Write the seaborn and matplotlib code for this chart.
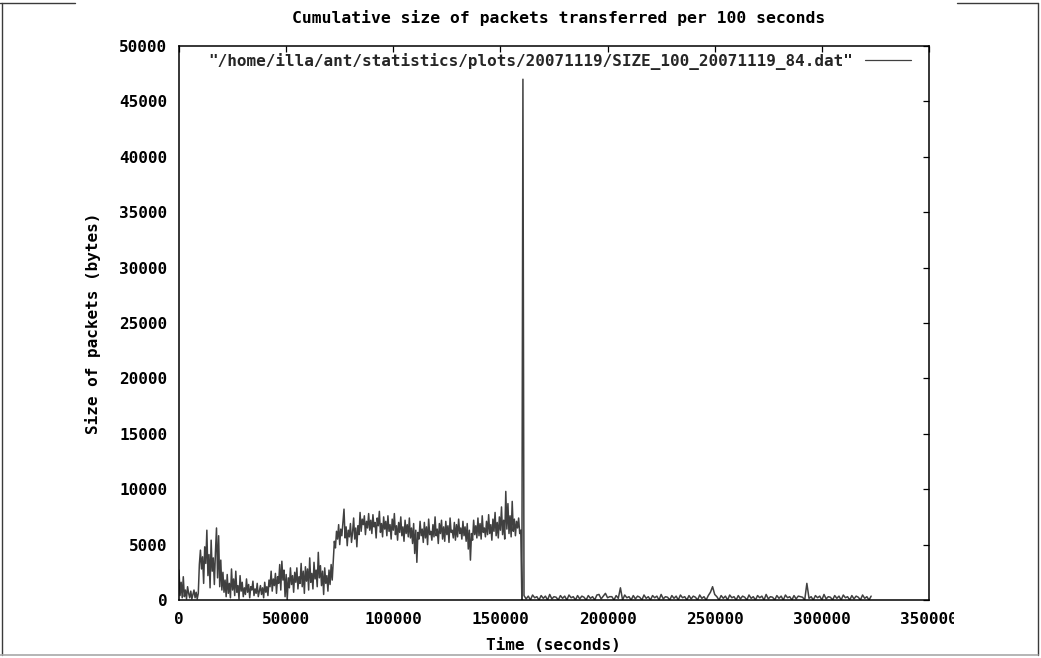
import numpy as np
import pandas as pd
import matplotlib
matplotlib.use("Agg")
import matplotlib.pyplot as plt
import seaborn as sns
from matplotlib.lines import Line2D
from matplotlib.transforms import Bbox, IdentityTransform, TransformedBbox

# ---------------- data (bytes per 100 s window) ----------------
title = "Cumulative size of packets transferred per 100 seconds"
xlabel = "Time (seconds)"
ylabel = "Size of packets (bytes)"
series_label = '"/home/illa/ant/statistics/plots/20071119/SIZE_100_20071119_84.dat"'

x_ticks = [0, 50000, 100000, 150000, 200000, 250000, 300000, 350000]
y_ticks = [0, 5000, 10000, 15000, 20000, 25000, 30000, 35000, 40000, 45000, 50000]

# active period, one value every 500 s from 0 to 160000
seg_a = [2700, 400, 1600, 200, 2100, 300, 900, 100, 1200, 600, 200, 800, 100, 500,
         900, 200, 700, 100, 600]
seg_b = [3200, 4500, 2800, 3900, 1500, 4800, 3300, 6300, 2200, 4100, 1100, 5400,
         2600, 3800, 1400, 4300, 6500, 2000, 5800, 1200, 3600, 900, 2500, 700]
seg_c = [1800, 300, 2300, 600, 1500, 200, 2800, 900, 1900, 400,
         2600, 700, 1300, 100, 2200, 800, 1600, 300, 1100, 500,
         1900, 700, 1400, 200, 1200, 900, 1700, 400, 1000, 600,
         1500, 300, 800, 1300, 500, 1100, 200, 1600, 700, 1200,
         400, 1800]
seg_d = [1200, 2600, 800, 1900, 1300, 2400, 600, 2100, 1500, 3200,
         900, 3500, 1800, 2700, 300, 2300, 0, 2000, 1100, 2900,
         1400, 2200, 700, 2500, 1600, 2900, 1000, 2100, 1500, 3300,
         1200, 2600, 600, 3000, 1700, 2800, 900, 3800, 1600, 2400,
         1000, 3400, 1900, 2700, 1200, 4300, 2000, 3100, 1300, 2600,
         500, 2900, 1500, 2200, 800, 2700, 1400, 3200, 1800]
seg_e = [3600, 5300, 4700, 6200, 5500, 6800, 5000, 6400, 5800, 7000, 8200, 5600,
         6600, 4900, 6300, 5700, 6900, 5200, 6100, 7400, 5500, 6500, 4800, 6700, 5900]
seg_f = [7900, 6200, 7300, 6800, 7600, 5900, 7100, 6500, 7800, 6300,
         7200, 6000, 7700, 6600, 7000, 5600, 7400, 6700, 8000, 6100,
         6900, 5700, 7500, 6400, 7100, 5800, 7600, 6200, 6800, 5500,
         7300, 6300, 7800, 5900, 6700, 5400, 7000, 6100, 7500, 5800,
         6600, 5300, 7200, 6000, 6800, 5700, 7400, 5600, 6500, 5100,
         6900, 4200, 6300, 3400, 6100, 5500, 7100, 5800, 6400, 5200,
         7000, 5600, 6600, 5000, 7300, 5900, 6200, 5400, 6800, 5700,
         7500, 5800, 6400, 5100, 6900, 6000, 7200, 5500, 6600, 5300,
         7100, 5900, 6700, 5200, 7400, 6100, 6300, 5600, 7000, 5400,
         6800, 5700, 7300, 6000, 6500, 5500, 7100, 5800, 6600, 5300,
         6900, 4600, 6300, 3600, 6000, 5400, 7200, 5900, 6700, 5600,
         7400, 5800, 6900, 5500, 7600, 6100, 6500, 5700, 7100, 5900,
         7700, 6000, 6800, 5400, 7300, 6200, 7900, 5800, 7000, 5600,
         7500, 6300, 8400, 5900, 7200, 5500, 9800, 6400, 8700, 6000,
         7600, 5700, 8900, 6200, 7300, 5800, 7100, 6500, 7400, 6000,
         6300, 0]

# single burst
spike_time = [160500]
spike_value = [47000]

# quiet period, one value every 1000 s from 161000 to 323000
seg_low = [400, 100, 350, 0, 450, 200, 300, 0, 400, 150,
           350, 0, 500, 100, 300, 250, 0, 400, 150, 350,
           0, 450, 200, 300, 0, 400, 100, 350, 250, 0,
           400, 150, 300, 0, 450, 500, 100, 350, 600, 200,
           300, 300, 0, 400, 150, 1100, 0, 450, 200, 300,
           0, 400, 100, 350, 250, 0, 450, 150, 300, 0,
           400, 200, 350, 0, 500, 100, 300, 250, 0, 400,
           150, 350, 0, 450, 200, 300, 0, 400, 100, 350,
           250, 0, 450, 150, 300, 0, 400, 700, 1200, 500,
           300, 0, 400, 150, 350, 0, 450, 200, 300, 0,
           400, 100, 350, 250, 0, 450, 150, 300, 0, 400,
           200, 350, 0, 500, 100, 300, 250, 0, 400, 150,
           350, 0, 450, 200, 300, 0, 400, 100, 350, 300,
           250, 0, 1500, 150, 300, 0, 400, 200, 350, 0,
           500, 100, 300, 250, 0, 400, 150, 350, 0, 450,
           200, 300, 0, 400, 100, 350, 250, 0, 450, 150,
           300, 0, 350]

active_values = seg_a + seg_b + seg_c + seg_d + seg_e + seg_f
active_time = list(np.arange(0, 500 * len(active_values), 500))
low_time = list(np.arange(161000, 161000 + 1000 * len(seg_low), 1000))

df = pd.DataFrame({
    "time": active_time + spike_time + low_time,
    "size": active_values + spike_value + seg_low,
})

# ---------------- style ----------------
sns.set_theme(style="white")
plt.rcParams["font.family"] = ["DejaVu Sans Mono", "DejaVu Sans"]
plt.rcParams["font.weight"] = "bold"
FS = 11.5
LINE_COLOR = "#404040"

W, H = 1041, 658
fig = plt.figure(figsize=(W / 100, H / 100), dpi=100)
fig.patch.set_facecolor("white")
ax = fig.add_axes([179 / W, 58 / H, 750 / W, 554 / H])
ax.set_facecolor("white")

sns.lineplot(data=df, x="time", y="size", ax=ax, color=LINE_COLOR, linewidth=1.1,
             estimator=None, errorbar=None, sort=False, legend=False)

ax.set_xlim(0, 350000)
ax.set_ylim(0, 50000)
ax.set_xticks(x_ticks)
ax.set_yticks(y_ticks)
ax.set_xticklabels([str(v) for v in x_ticks])
ax.set_yticklabels([str(v) for v in y_ticks])
ax.tick_params(axis="both", which="major", direction="in", length=4.5, width=0.9,
               color="black", top=True, right=True, labelsize=FS, pad=8.5,
               labelcolor="black")
for lab in ax.get_xticklabels() + ax.get_yticklabels():
    lab.set_fontweight("bold")
for sp in ax.spines.values():
    sp.set_color("black")
    sp.set_linewidth(1.1)

ax.set_xlabel("")
ax.set_ylabel("")

# titles / labels
fig.text(559 / W, 1 - 18 / H, title, ha="center", va="center", fontsize=11.8,
         fontweight="bold", color="black")
fig.text(553 / W, 1 - 645 / H, xlabel, ha="center", va="center", fontsize=FS,
         fontweight="bold", color="black")
fig.text(93 / W, 1 - 323 / H, ylabel, ha="center", va="center", rotation=90,
         fontsize=FS, fontweight="bold", color="black")

# legend (key at the right of the text, gnuplot style)
handle = Line2D([0], [0], color=LINE_COLOR, linewidth=0.9)
leg = ax.legend([handle], [series_label], loc="center right",
                bbox_to_anchor=(911 / W, 1 - 61 / H), bbox_transform=fig.transFigure,
                frameon=False, markerfirst=False, borderpad=0, borderaxespad=0,
                handlelength=2.9, handletextpad=0.7,
                prop={"family": "DejaVu Sans Mono", "weight": "bold", "size": FS})

# outer page frame
dark, light = "#3a3a3a", "#a8a8a8"
fig.add_artist(Line2D([0 / W, 75 / W], [1 - 3 / H, 1 - 3 / H], transform=fig.transFigure, color=dark, lw=1))
fig.add_artist(Line2D([957 / W, 1038 / W], [1 - 3 / H, 1 - 3 / H], transform=fig.transFigure, color=dark, lw=1))
fig.add_artist(Line2D([2 / W, 2 / W], [1 - 3 / H, 1 - 655 / H], transform=fig.transFigure, color=dark, lw=1))
fig.add_artist(Line2D([1038 / W, 1038 / W], [1 - 3 / H, 1 - 655 / H], transform=fig.transFigure, color=dark, lw=1))
fig.add_artist(Line2D([0 / W, 1038 / W], [1 - 655 / H, 1 - 655 / H], transform=fig.transFigure, color=light, lw=1.2))

# the last x tick label is cut at the right edge of the drawing area
fig.canvas.draw()
clip = TransformedBbox(Bbox([[0, 0], [954, H]]), IdentityTransform())
for lab in ax.get_xticklabels():
    lab.set_clip_box(clip)
    lab.set_clip_on(True)

fig.savefig("out.png", dpi=100, facecolor="white")
